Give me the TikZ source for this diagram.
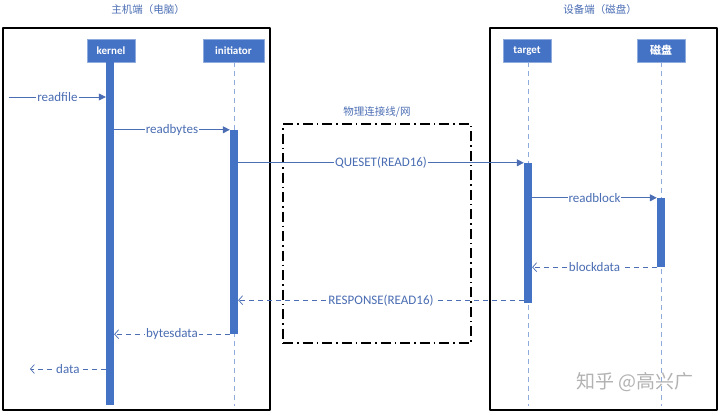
\documentclass[tikz,border=0pt]{standalone}
\usepackage{fontspec}
\setmainfont{Carlito}
\newfontfamily\cjk{Noto Sans CJK SC}
\usetikzlibrary{arrows.meta}
\definecolor{bblue}{HTML}{4472C4}
\definecolor{lblue}{HTML}{8FAADC}
\definecolor{tblue}{HTML}{4A6DB3}
\begin{document}
\begin{tikzpicture}[x=1pt,y=-1pt,line join=round,font=\fontsize{13}{15}\selectfont,
	head/.style={draw=lblue,fill=bblue,text=white,font=\bfseries\fontsize{11}{13}\selectfont,minimum width=48pt,minimum height=23pt,inner sep=0pt},
	bar/.style={fill=bblue,minimum width=8pt,inner sep=0pt},
	life/.style={lblue,line width=.8pt,dash pattern=on 5pt off 4pt},
	msg/.style={tblue,line width=.7pt,-{Triangle[length=7pt,width=7pt]}},
	ret/.style={tblue,line width=.7pt,dash pattern=on 5pt off 4pt,-{Straight Barb[length=4pt,width=9pt]}},
	lbl/.style={midway,fill=white,text=tblue,inner sep=1pt},
	side/.style={draw,line width=2pt,inner sep=0pt},
	title/.style={text=tblue,font=\cjk\fontsize{10.5}{12}\selectfont}]
	\useasboundingbox (0,0) rectangle (720,412);
	\def\yb{406}
	% two sides
	\node[side,minimum width=267pt,minimum height=382pt] (host) at (136.5,219) {};
	\node[side,minimum width=227pt,minimum height=382pt] (dev) at (603.5,219) {};
	\node[title] at (148,10) {主机端（电脑）};
	\node[title] at (600,10) {设备端（磁盘）};
	% link
	\node[draw,line width=1.5pt,dash pattern=on 10pt off 4pt on 1.5pt off 4pt,minimum width=188pt,minimum height=219pt] (net) at (377,233.5) {};
	\node[title,above=2pt] at (net.north) {物理连接线/网};
	% heads
	\node[head] (kernel) at (111,50.5) {kernel};
	\node[head,minimum width=61pt] (init) at (233.5,50.5) {initiator};
	\node[head] (target) at (527,50.5) {target};
	\node[head,font=\cjk\bfseries\fontsize{11}{13}\selectfont] (disk) at (661,50.5) {磁盘};
	\coordinate (bot) at (0,\yb);
	\draw[life] (init.south-|234,0) -- (bot-|234,0);
	\draw[life] (target.south-|528,0) -- (bot-|528,0);
	\draw[life] (disk.south) -- (bot-|disk.south);
	% bars
	\node[bar,minimum height=343pt] (kbar) at (110,233.5) {};
	\node[bar,minimum height=204pt] (ibar) at (234,232) {};
	\node[bar,minimum height=140pt] (tbar) at (528,233) {};
	\node[bar,minimum height=69pt] (dbar) at (661,232.5) {};
	% messages
	\coordinate (src) at (9,97);
	\coordinate (dst) at (30,369);
	\draw[msg] (src) -- (src-|kbar.west) node[lbl]{readfile};
	\draw[msg] (kbar.east|-ibar.north) -- (ibar.north west) node[lbl]{readbytes};
	\draw[msg] (ibar.east|-tbar.north) -- (tbar.north west) node[lbl]{QUESET(READ16)};
	\draw[msg] (tbar.east|-dbar.north) -- (dbar.north west) node[lbl]{readblock};
	\draw[ret] (dbar.south west) -- (dbar.south west-|tbar.east) node[lbl]{blockdata};
	\draw[ret] ([yshift=3pt]tbar.south west) -- ([yshift=3pt]tbar.south west-|ibar.east) node[lbl]{RESPONSE(READ16)};
	\draw[ret] (ibar.south west) -- (ibar.south west-|kbar.east) node[lbl]{bytesdata};
	\draw[ret] (kbar.west|-dst) -- (dst) node[lbl]{data};
	\node[text=black!30,font=\cjk\fontsize{19}{22}\selectfont] at (635,382) {知乎 @高兴广};
\end{tikzpicture}
\end{document}
